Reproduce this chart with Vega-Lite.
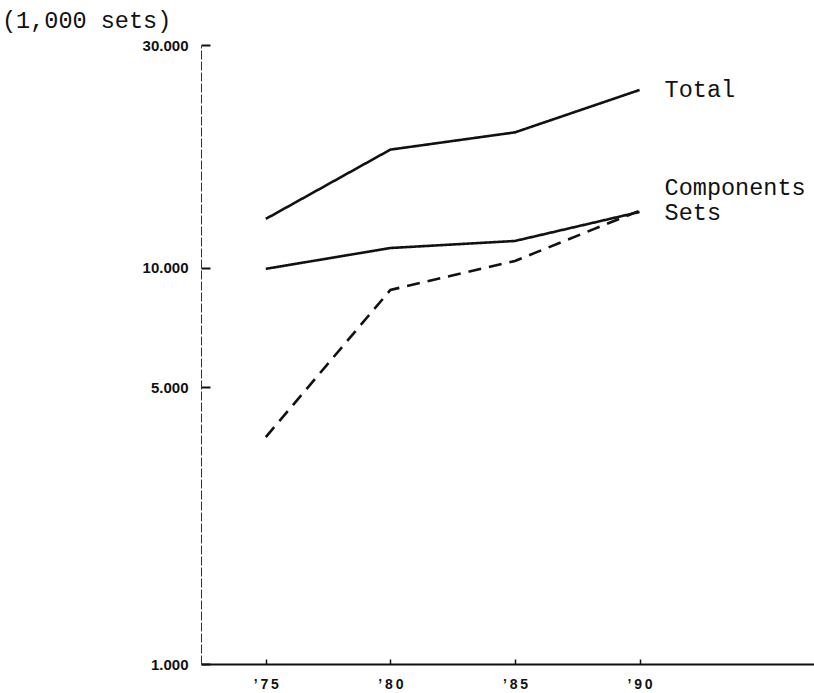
{
  "$schema": "https://vega.github.io/schema/vega-lite/v6.json",
  "width": 613,
  "height": 619,
  "autosize": "none",
  "padding": {"left": 201, "top": 45, "right": 0, "bottom": 29},
  "background": "white",
  "config": {"view": {"stroke": null}},
  "title": {
    "text": "(1,000 sets)",
    "anchor": "start",
    "frame": "group",
    "dx": -199,
    "offset": 6,
    "font": "Liberation Mono",
    "fontSize": 23.5,
    "fontWeight": "normal",
    "color": "#111"
  },
  "datasets": {
    "series": [
      {"series": "Total", "year": 1975, "value": 13300},
      {"series": "Total", "year": 1980, "value": 19900},
      {"series": "Total", "year": 1985, "value": 22000},
      {"series": "Total", "year": 1990, "value": 28150},
      {"series": "Components", "year": 1975, "value": 9950},
      {"series": "Components", "year": 1980, "value": 11230},
      {"series": "Components", "year": 1985, "value": 11700},
      {"series": "Components", "year": 1990, "value": 13850},
      {"series": "Sets", "year": 1975, "value": 3740},
      {"series": "Sets", "year": 1980, "value": 8800},
      {"series": "Sets", "year": 1985, "value": 10420},
      {"series": "Sets", "year": 1990, "value": 13950}
    ],
    "labels": [
      {"label": "Total", "year": 1990, "value": 28150},
      {"label": "Components", "year": 1990, "value": 15920},
      {"label": "Sets", "year": 1990, "value": 13770}
    ]
  },
  "layer": [
    {
      "data": {"name": "series"},
      "mark": {"type": "line", "color": "#111", "strokeWidth": 2.6},
      "encoding": {
        "x": {
          "field": "year",
          "type": "quantitative",
          "scale": {"domain": [1972.4, 1997], "nice": false, "zero": false},
          "axis": {
            "title": null,
            "values": [1975, 1980, 1985, 1990],
            "labelExpr": "'\u2019\u2009' + slice(toString(datum.value), 2, 3) + '\u2009' + slice(toString(datum.value), 3)",
            "grid": false,
            "domainColor": "#111",
            "domainWidth": 2,
            "tickColor": "#111",
            "tickSize": -5,
            "tickWidth": 1.5,
            "labelFont": "Liberation Sans",
            "labelFontWeight": "bold",
            "labelFontSize": 14,
            "labelColor": "#111",
            "labelPadding": 18
          }
        },
        "y": {
          "field": "value",
          "type": "quantitative",
          "scale": {"type": "log", "domain": [1000, 36560], "nice": false},
          "axis": {
            "title": null,
            "values": [1000, 5000, 10000, 36560],
            "labelExpr": "datum.value > 30000 ? '30.000' : replace(format(datum.value, ','), ',', '.')",
            "grid": false,
            "domainColor": "#333",
            "domainWidth": 1,
            "domainDash": [9, 2],
            "tickColor": "#111",
            "tickSize": -9,
            "tickWidth": 2,
            "labelFont": "Liberation Sans",
            "labelFontWeight": "bold",
            "labelFontSize": 15,
            "labelColor": "#111",
            "labelPadding": 22
          }
        },
        "detail": {"field": "series"},
        "strokeDash": {
          "field": "series",
          "type": "nominal",
          "scale": {"domain": ["Total", "Components", "Sets"], "range": [[1, 0], [1, 0], [13, 8]]},
          "legend": null
        }
      }
    },
    {
      "data": {"name": "labels"},
      "mark": {"type": "text", "align": "left", "baseline": "middle", "dx": 25, "font": "Liberation Mono", "fontSize": 23.5, "color": "#111"},
      "encoding": {
        "x": {"field": "year", "type": "quantitative"},
        "y": {"field": "value", "type": "quantitative"},
        "text": {"field": "label"}
      }
    }
  ]
}
